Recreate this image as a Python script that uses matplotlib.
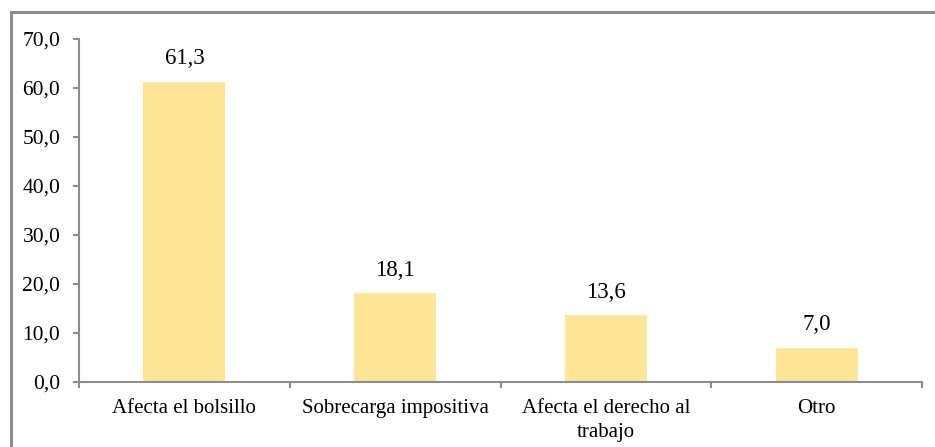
import matplotlib.pyplot as plt
from matplotlib.patches import Rectangle

categories = ["Afecta el bolsillo", "Sobrecarga impositiva", "Afecta el derecho al\ntrabajo", "Otro"]
values = [61.3, 18.1, 13.6, 7.0]
yticks = [0, 10, 20, 30, 40, 50, 60, 70]

plt.rcParams['font.family'] = ['Liberation Serif', 'DejaVu Serif']

W, H = 935, 447
fig = plt.figure(figsize=(W / 100, H / 100), dpi=100)
ax = fig.add_axes([79 / W, 1 - 382 / H, (922 - 79) / W, (382 - 39) / H])

# outer chart border (runs off the right and bottom edges)
fig.patches.append(Rectangle((11 / W, -0.1), 1.2, 1 - 12 / H + 0.1, transform=fig.transFigure,
                             fill=False, edgecolor='#8c8c8c', linewidth=2.2))

x = range(len(categories))
bars = ax.bar(x, values, width=0.39, color='#FFE699')

for b, v in zip(bars, values):
    ax.annotate(f"{v:.1f}".replace('.', ','), (b.get_x() + b.get_width() / 2, v),
                xytext=(0, 9), textcoords='offset points', ha='center', va='bottom', fontsize=16.5)

ax.set_xlim(-0.5, len(categories) - 0.5)
ax.set_ylim(0, 70)
ax.set_yticks(yticks)
ax.set_yticklabels([f"{t:.1f}".replace('.', ',') for t in yticks], fontsize=15.5)
ax.set_xticks(x)
ax.set_xticklabels(categories, fontsize=15, linespacing=1.35)
ax.set_xticks([i - 0.5 for i in range(len(categories) + 1)], minor=True)
ax.tick_params(axis='x', which='major', length=0, pad=12)
ax.tick_params(axis='x', which='minor', length=4.5, width=1.5, color='#8c8c8c', direction='out')
ax.tick_params(axis='y', length=4.5, width=1.5, color='#8c8c8c', pad=9)

for s in ['top', 'right']:
    ax.spines[s].set_visible(False)
for s in ['left', 'bottom']:
    ax.spines[s].set_color('#8c8c8c')
    ax.spines[s].set_linewidth(1.5)

fig.savefig("out.png", dpi=100)
